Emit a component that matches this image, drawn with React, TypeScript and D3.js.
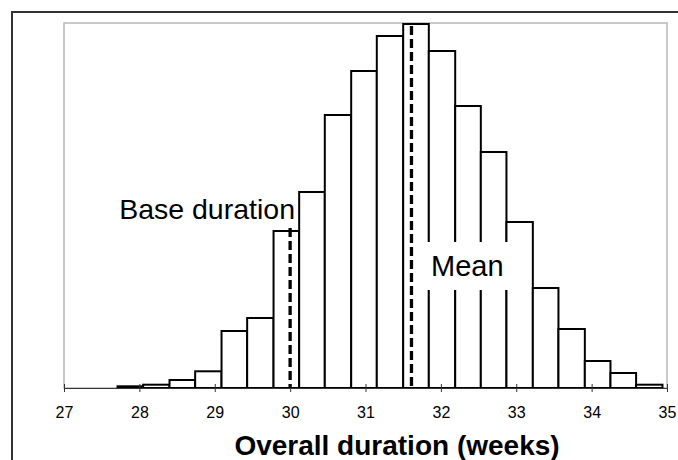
import { useEffect, useRef } from "react";
import * as d3 from "d3";

// Histogram bin edges (weeks) and bar heights.
const binEdges = [
  27.71, 28.05, 28.4, 28.74, 29.09, 29.43, 29.78, 30.12, 30.46, 30.81, 31.15,
  31.5, 31.84, 32.19, 32.53, 32.87, 33.22, 33.56, 33.91, 34.25, 34.59, 34.94,
];
const frequencies = [
  1.7, 3.3, 8, 16.7, 57, 70, 157, 196, 273, 317, 352, 364, 337, 282, 236, 166,
  100, 59, 27, 15, 3.3,
];
const tickLabels = [27, 28, 29, 30, 31, 32, 33, 34, 35];
const baseDuration = 30.0;
const meanDuration = 31.61;

export default function App() {
  const svgRef = useRef<SVGSVGElement>(null);

  useEffect(() => {
    const width = 678;
    const height = 460;
    const plot = { left: 64, right: 667, top: 23, bottom: 388 };
    const font = "'Liberation Sans', Arial, Helvetica, sans-serif";

    const svg = d3.select(svgRef.current);
    svg.selectAll("*").remove();
    svg.attr("width", width).attr("height", height);

    svg.append("rect").attr("width", width).attr("height", height).attr("fill", "#fff");

    // chart area border (runs off the right and bottom edges)
    svg
      .append("rect")
      .attr("x", 12)
      .attr("y", 12)
      .attr("width", 720)
      .attr("height", 520)
      .attr("fill", "none")
      .attr("stroke", "#333")
      .attr("stroke-width", 2);

    const x = d3.scaleLinear().domain([27, 35]).range([plot.left, plot.right]);
    const y = d3.scaleLinear().domain([0, 365]).range([plot.bottom, plot.top]);

    // plot area frame
    svg
      .append("rect")
      .attr("x", plot.left)
      .attr("y", plot.top)
      .attr("width", plot.right - plot.left)
      .attr("height", plot.bottom - plot.top)
      .attr("fill", "none")
      .attr("stroke", "#b8b8b8")
      .attr("stroke-width", 1.5);

    const bins = frequencies.map((v, i) => ({ x0: binEdges[i], x1: binEdges[i + 1], v }));

    svg
      .append("g")
      .selectAll("rect")
      .data(bins)
      .join("rect")
      .attr("x", (d) => x(d.x0))
      .attr("y", (d) => y(d.v))
      .attr("width", (d) => x(d.x1) - x(d.x0))
      .attr("height", (d) => y(0) - y(d.v))
      .attr("fill", "#fff")
      .attr("stroke", "#000")
      .attr("stroke-width", 2);

    // x axis
    const axis = svg
      .append("g")
      .attr("transform", `translate(0,${plot.bottom})`)
      .call(d3.axisBottom(x).tickValues(tickLabels).tickSizeOuter(0).tickFormat(d3.format("d")));
    axis.select(".domain").attr("stroke", "#333").attr("stroke-width", 1.2);
    axis.selectAll(".tick line").attr("y1", -4).attr("y2", 4).attr("stroke", "#333");
    axis
      .selectAll(".tick text")
      .attr("y", 30)
      .attr("dy", null)
      .attr("fill", "#000")
      .style("font-family", font)
      .style("font-size", "16px");

    // dashed marker lines
    const dashed = (v: number, top: number) =>
      svg
        .append("line")
        .attr("x1", x(v))
        .attr("x2", x(v))
        .attr("y1", top)
        .attr("y2", plot.bottom)
        .attr("stroke", "#000")
        .attr("stroke-width", 3.3)
        .attr("stroke-dasharray", "9 4");

    dashed(meanDuration, plot.top + 3);
    dashed(baseDuration, 228);

    // label boxes
    svg
      .append("rect")
      .attr("x", 416)
      .attr("y", 242)
      .attr("width", 104)
      .attr("height", 48)
      .attr("fill", "#fff");
    svg
      .append("text")
      .attr("x", 431)
      .attr("y", 276)
      .style("font-family", font)
      .style("font-size", "29px")
      .text("Mean");

    svg
      .append("text")
      .attr("x", 295)
      .attr("y", 219)
      .attr("text-anchor", "end")
      .style("font-family", font)
      .style("font-size", "28.5px")
      .text("Base duration");

    svg
      .append("text")
      .attr("x", 397)
      .attr("y", 455)
      .attr("text-anchor", "middle")
      .style("font-family", font)
      .style("font-size", "28px")
      .style("font-weight", "bold")
      .text("Overall duration (weeks)");
  }, []);

  return (
    <svg
      ref={svgRef}
      style={{ position: "absolute", left: 0, top: 0, display: "block" }}
    ></svg>
  );
}
